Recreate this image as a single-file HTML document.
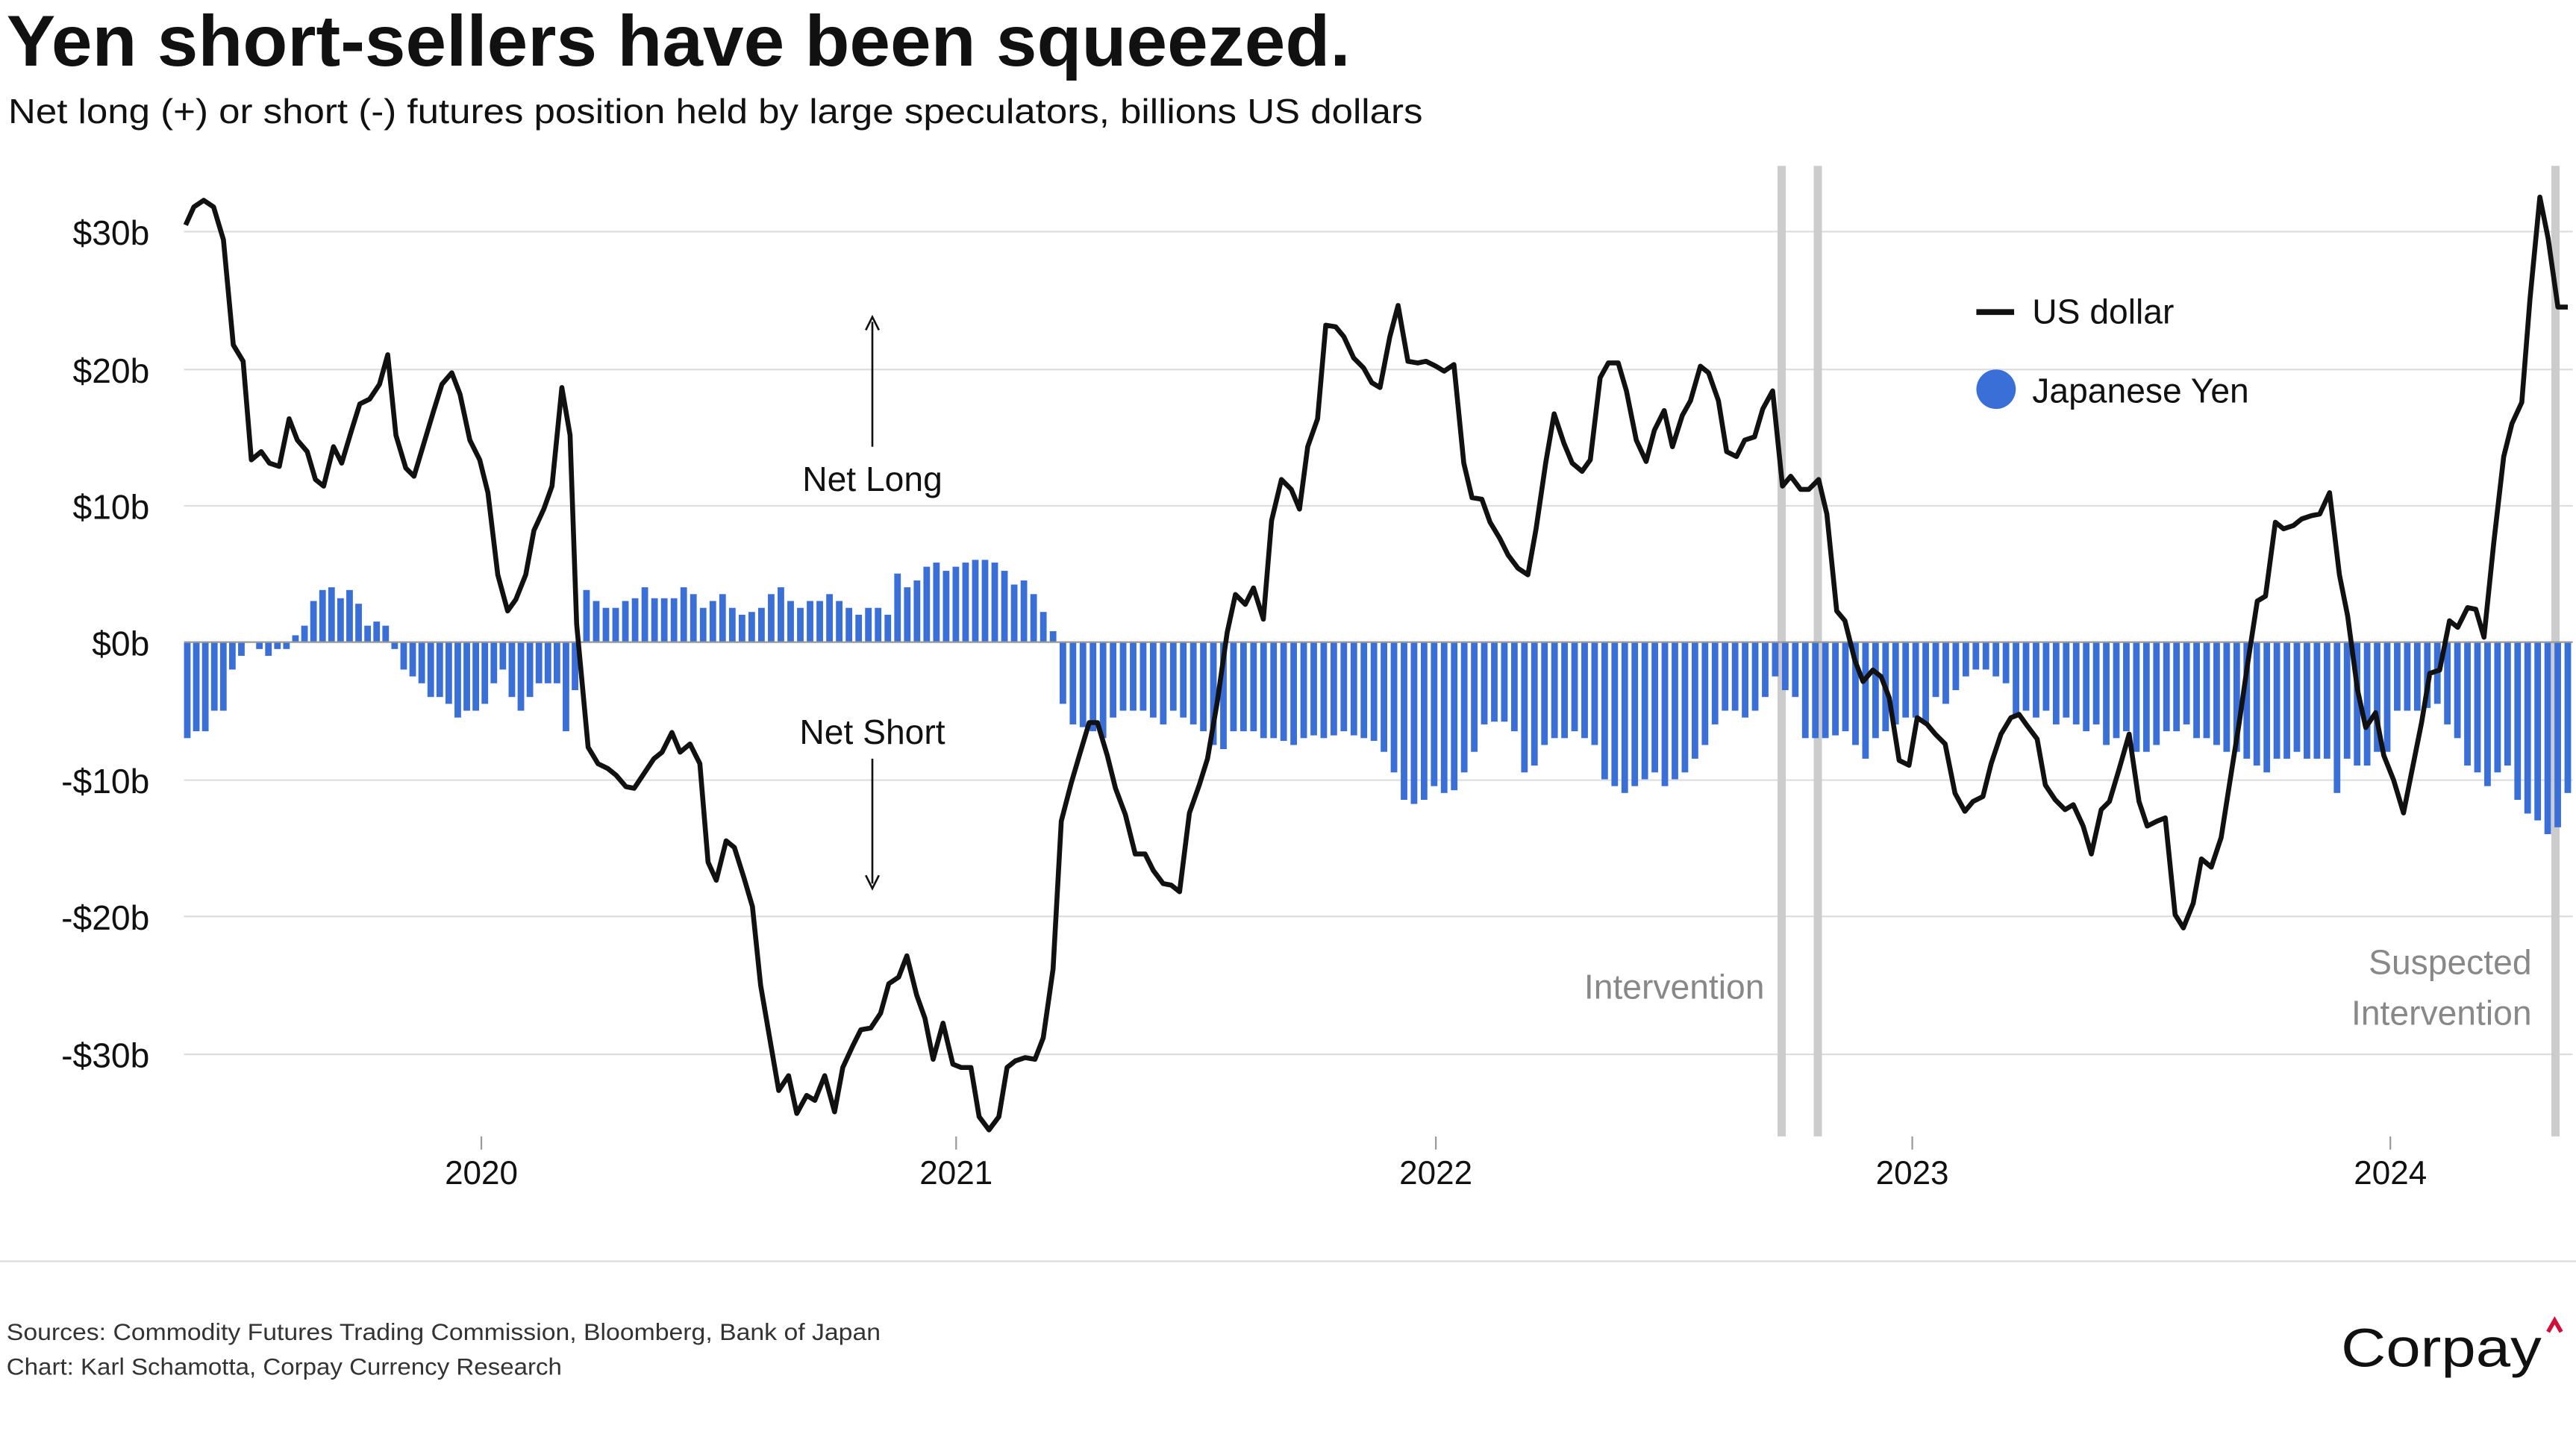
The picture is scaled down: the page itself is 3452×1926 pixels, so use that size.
<!DOCTYPE html>
<html><head><meta charset="utf-8"><style>
html,body{margin:0;padding:0;background:#fff;}
svg{display:block;font-family:"Liberation Sans",sans-serif;}
</style></head><body>
<svg id="s" width="3452" height="1926" viewBox="0 0 1568 875" preserveAspectRatio="none" xmlns="http://www.w3.org/2000/svg">
<rect width="1568" height="875" fill="#fff"/>
<text x="4" y="40" font-size="44" font-weight="bold" fill="#111" textLength="818" lengthAdjust="spacingAndGlyphs">Yen short-sellers have been squeezed.</text>
<text x="5" y="75" font-size="21" fill="#111" textLength="861" lengthAdjust="spacingAndGlyphs">Net long (+) or short (-) futures position held by large speculators, billions US dollars</text>
<g stroke="#ddd" stroke-width="1">
<line x1="112" x2="1566" y1="141" y2="141"/><line x1="112" x2="1566" y1="225" y2="225"/>
<line x1="112" x2="1566" y1="308" y2="308"/><line x1="112" x2="1566" y1="475" y2="475"/>
<line x1="112" x2="1566" y1="558" y2="558"/><line x1="112" x2="1566" y1="642" y2="642"/>
</g>
<g font-size="21" fill="#111" text-anchor="end">
<text x="91" y="149">$30b</text><text x="91" y="233">$20b</text><text x="91" y="316">$10b</text>
<text x="91" y="399">$0b</text><text x="91" y="483">-$10b</text><text x="91" y="566">-$20b</text><text x="91" y="650">-$30b</text>
</g>
<g font-size="20" fill="#111" text-anchor="middle">
<text x="293" y="721">2020</text><text x="582" y="721">2021</text><text x="874" y="721">2022</text><text x="1164" y="721">2023</text><text x="1455" y="721">2024</text>
</g>
<g stroke="#999" stroke-width="1"><line x1="293" x2="293" y1="692" y2="700"/><line x1="582" x2="582" y1="692" y2="700"/><line x1="874" x2="874" y1="692" y2="700"/><line x1="1164" x2="1164" y1="692" y2="700"/><line x1="1455" x2="1455" y1="692" y2="700"/></g>
<g fill="#ccc"><rect x="1082" y="101" width="5" height="591"/><rect x="1104" y="101" width="5" height="591"/><rect x="1553" y="101" width="5" height="591"/></g>
<g id="bars" fill="#3a6fd8"></g>
<line x1="112" x2="1566" y1="391" y2="391" stroke="#999" stroke-width="1"/>
<polyline id="usd" fill="none" stroke="#111" stroke-width="3" stroke-linejoin="round"/>
<text x="531" y="299" font-size="21" text-anchor="middle" fill="#111">Net Long</text>
<text x="531" y="453" font-size="21" text-anchor="middle" fill="#111">Net Short</text>
<line x1="531" y1="272" x2="531" y2="196" stroke="#111" stroke-width="1.2"/><path d="M527,201 L531,193 L535,201" fill="none" stroke="#111" stroke-width="1.2"/>
<line x1="531" y1="462" x2="531" y2="538" stroke="#111" stroke-width="1.2"/><path d="M527,533 L531,541 L535,533" fill="none" stroke="#111" stroke-width="1.2"/>
<text x="1074" y="608" font-size="21" text-anchor="end" fill="#888">Intervention</text>
<text x="1541" y="593" font-size="21" text-anchor="end" fill="#888">Suspected</text>
<text x="1541" y="624" font-size="21" text-anchor="end" fill="#888">Intervention</text>
<line x1="1203" x2="1226" y1="190" y2="190" stroke="#111" stroke-width="3.5"/>
<text x="1237" y="197" font-size="21" fill="#111">US dollar</text>
<circle cx="1215" cy="237" r="12" fill="#3a6fd8"/>
<text x="1237" y="245" font-size="21" fill="#111">Japanese Yen</text>
<line x1="0" x2="1568" y1="768" y2="768" stroke="#ddd" stroke-width="1"/>
<text x="4" y="816" font-size="14.5" fill="#333" textLength="532" lengthAdjust="spacingAndGlyphs">Sources: Commodity Futures Trading Commission, Bloomberg, Bank of Japan</text>
<text x="4" y="837" font-size="14.5" fill="#333" textLength="338" lengthAdjust="spacingAndGlyphs">Chart: Karl Schamotta, Corpay Currency Research</text>
<text x="1425" y="832" font-size="33" fill="#111" textLength="122" lengthAdjust="spacingAndGlyphs">Corpay</text>
<path d="M1551,811 L1555,804 L1559,811" fill="none" stroke="#d0103a" stroke-width="2.5"/>
</svg>
<script>
var u=[113,137,118,126,124,122,130,126,136,146,142,210,148,220,153,280,159,275,164,282,170,284,176,255,181,268,187,275,192,292,197,296,203,272,208,282,214,262,219,246,225,243,231,234,236,216,241,265,247,285,252,290,258,270,264,250,269,234,275,227,280,240,286,268,292,280,297,300,303,350,309,372,314,365,320,350,325,323,331,310,336,296,342,236,347,265,351,380,358,455,364,465,370,468,375,472,381,479,386,480,392,471,398,462,403,458,409,446,414,458,420,453,426,465,431,525,436,536,442,512,447,516,453,535,458,552,463,600,469,635,474,664,480,655,485,678,491,667,496,670,502,655,508,677,513,650,519,637,524,627,530,626,536,617,541,599,547,595,552,582,558,606,563,620,568,645,574,623,580,648,585,650,591,650,596,680,602,688,608,680,613,650,618,646,624,644,630,645,635,632,641,590,646,500,652,477,657,460,663,440,668,440,674,460,679,480,685,496,691,520,697,520,702,530,708,538,713,539,718,543,724,495,730,478,735,462,741,427,747,385,752,362,758,368,763,358,769,377,774,317,780,292,786,298,791,310,796,272,802,255,807,198,813,199,818,205,824,218,830,224,835,233,840,236,846,205,851,186,857,220,863,221,868,220,874,223,879,226,885,222,891,282,896,303,902,304,907,318,913,328,918,338,924,346,930,350,935,322,941,281,946,252,952,270,957,282,963,287,968,280,974,230,979,221,985,221,990,238,996,268,1002,281,1007,262,1013,250,1018,272,1024,253,1029,244,1035,223,1040,227,1046,244,1051,275,1057,278,1062,268,1068,266,1073,249,1079,238,1085,296,1090,290,1096,298,1101,298,1107,292,1112,313,1118,372,1123,378,1129,402,1134,415,1140,408,1145,412,1150,425,1156,463,1162,466,1167,437,1173,441,1178,447,1184,453,1190,483,1196,494,1201,488,1207,485,1212,465,1218,447,1224,437,1229,435,1234,442,1240,450,1245,478,1251,487,1257,493,1262,490,1268,503,1273,520,1279,493,1284,488,1290,468,1296,447,1302,488,1307,503,1313,500,1318,498,1324,557,1329,565,1335,550,1340,523,1346,528,1352,510,1357,478,1363,440,1368,405,1374,366,1379,363,1385,318,1390,322,1396,320,1401,316,1407,314,1412,313,1418,300,1424,350,1429,375,1435,420,1440,443,1446,434,1451,460,1457,475,1463,495,1468,470,1474,440,1479,410,1485,408,1491,378,1496,382,1502,370,1507,371,1512,388,1518,330,1524,278,1529,258,1535,245,1540,182,1546,120,1551,145,1557,187,1563,187];
var p=[];for(var i=0;i<u.length;i+=2)p.push(u[i]+','+u[i+1]);
document.getElementById('usd').setAttribute('points',p.join(' '));
var s1=[-7,-6.5,-6.5,-5,-5,-2,-1,0,-0.5,-1,-0.5,-0.5,0.5,1.2,3,3.8,4,3.2,3.8,2.8,1.2,1.5,1.2,-0.5,-2,-2.5,-3,-4,-4,-4.5,-5.5,-5,-5,-4.5,-3,-2,-4,-5,-4,-3,-3,-3,-6.5,-3.5];
var s2=[3.8,3,2.5,2.5,3,3.2,4,3.2,3.2,3.2,4,3.5,2.5,3,3.5,2.5,2,2.2,2.5,3.5,4,3,2.5,3,3,3.5,3,2.5,2,2.5,2.5,2,5,4,4.5,5.5,5.8,5.2,5.5,5.8,6,6,5.8,5.2,4.2,4.5,3.5,2.2,0.8];
var s3=[-4.5,-6,-6.2,-6.5,-7,-5.5,-5,-5,-5,-5.5,-6,-5,-5.5,-6,-6.5,-7.5,-7.8,-6.5,-6.5,-6.5,-7,-7,-7.2,-7.5,-7,-6.8,-7,-6.8,-6.5,-6.8,-7,-7.2,-8,-9.5,-11.5,-11.8,-11.5,-10.5,-11,-10.8,-9.5,-8,-6,-5.8,-5.8,-6.5,-9.5,-9,-7.5,-7,-7,-6.5,-7,-7.5,-10,-10.5,-11,-10.5,-10,-9.5,-10.5,-10,-9.5,-8.5,-7.5,-6,-5,-5,-5.5,-5,-4,-2.5,-3.5,-4,-7,-7,-7,-6.8,-6.5,-7.5,-8.5,-7,-6.5,-6,-5.5,-5.5,-6,-4,-4.5,-3.5,-2.5,-2,-2,-2.5,-3,-5.5,-5,-5.5,-5,-6,-5.5,-6,-6.5,-6,-7.5,-7,-6.5,-8,-8,-7.5,-6.5,-6.5,-6,-7,-7,-7.5,-8,-8,-8.5,-9,-9.5,-8.5,-8.5,-8,-8.5,-8.5,-8.5,-11,-8.5,-9,-9,-8,-8,-5,-5,-5,-4.8,-4.5,-6,-7,-9,-9.5,-10.5,-9.5,-9,-11.5,-12.5,-13,-14,-13.5,-11];
var g=document.getElementById('bars'),h='',w=4;
function seg(v,a,b){var n=v.length,st=(b-a)/(n-1);for(var i=0;i<n;i++){var x=a+i*st-w/2,y=391-v[i]*8.35,t=Math.min(y,391),hh=Math.abs(y-391);h+='<rect x="'+x.toFixed(2)+'" y="'+t.toFixed(2)+'" width="'+w+'" height="'+hh.toFixed(2)+'"/>';}}
seg(s1,114,350);seg(s2,357,641);seg(s3,647,1563);
g.innerHTML=h;
</script>
</body></html>
